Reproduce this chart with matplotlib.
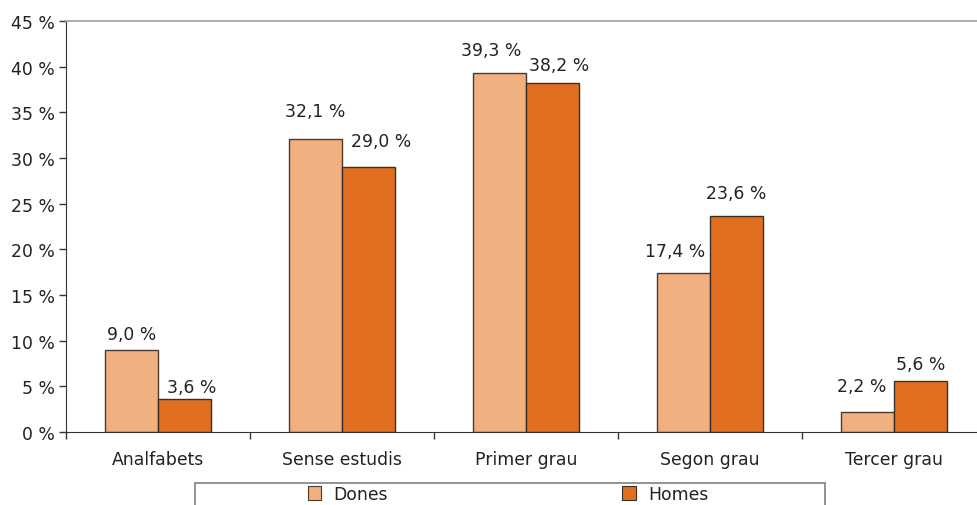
import matplotlib
matplotlib.use("Agg")
import matplotlib.pyplot as plt
import numpy as np
from matplotlib.patches import Rectangle, Patch
from matplotlib.ticker import FixedLocator, FuncFormatter

categories = ["Analfabets", "Sense estudis", "Primer grau", "Segon grau", "Tercer grau"]
dones = [9.0, 32.1, 39.3, 17.4, 2.2]
homes = [3.6, 29.0, 38.2, 23.6, 5.6]
series_names = ["Dones", "Homes"]
yticks = [0, 5, 10, 15, 20, 25, 30, 35, 40, 45]

# label placement relative to each bar: (horizontal shift, gap above bar), in pixels
dones_label_pos = [(0, 11), (0, 23), (-8, 18), (-8, 17), (-5.5, 21)]
homes_label_pos = [(7, 7), (13, 21), (7, 13), (0, 18), (0, 12)]

c_dones = "#F0B080"
c_homes = "#E07020"
edge = "#3a2e28"
text_c = "#222222"
FS = 12.4

W, H = 977, 506
plt.rcParams["font.family"] = ["DejaVu Sans"]
fig = plt.figure(figsize=(W / 100, H / 100), dpi=100)

left, right, top, bottom = 66, 986, 22, 433
ax = fig.add_axes([left / W, (H - bottom) / H, (right - left) / W, (bottom - top) / H])

x = np.arange(len(categories))
bw = 0.288
b1 = ax.bar(x - bw / 2, dones, bw, color=c_dones, edgecolor="#4a3a30", linewidth=1.0, label=series_names[0])
b2 = ax.bar(x + bw / 2, homes, bw, color=c_homes, edgecolor=edge, linewidth=1.0, label=series_names[1])

def fmt(v):
    return f"{v:.1f}".replace(".", ",") + " %"

px = 72 / 100  # pixels -> points
for bars, vals, pos in ((b1, dones, dones_label_pos), (b2, homes, homes_label_pos)):
    for r, v, (dx, gap) in zip(bars, vals, pos):
        ax.annotate(fmt(v), (r.get_x() + r.get_width() / 2, v), xytext=(dx * px, gap * px),
                    textcoords="offset points", ha="center", va="baseline",
                    fontsize=FS, color=text_c)

ax.set_xlim(-0.5, len(categories) - 0.5)
ax.set_ylim(0, 45)

ax.set_xticks(x)
ax.set_xticklabels(categories)
ax.xaxis.set_minor_locator(FixedLocator(np.arange(len(categories) + 1) - 0.5))
ax.tick_params(axis="x", which="major", length=0, pad=13, labelsize=FS, labelcolor=text_c)
ax.tick_params(axis="x", which="minor", length=5, width=1, color="#333333", direction="out")

ax.set_yticks(yticks)
ax.yaxis.set_major_formatter(FuncFormatter(lambda v, p: f"{int(v)} %"))
ax.tick_params(axis="y", length=5, width=1, color="#333333", pad=3, labelsize=FS, labelcolor=text_c)

ax.spines["right"].set_visible(False)
ax.spines["top"].set_color("#a0a0a0")
ax.spines["top"].set_linewidth(1.2)
ax.spines["left"].set_color("#333333")
ax.spines["bottom"].set_color("#333333")

# legend frame (runs off the bottom of the figure)
fig.add_artist(Rectangle((195 / W, -0.05), (825 - 195) / W, (H - 484) / H + 0.05,
                         transform=fig.transFigure, facecolor="none",
                         edgecolor="#808080", linewidth=1.2))
handles = [Patch(facecolor=c_dones, edgecolor="#4a3a30", linewidth=0.8),
           Patch(facecolor=c_homes, edgecolor=edge, linewidth=0.8)]
fig.legend(handles, series_names, loc="center left",
           bbox_to_anchor=(299 / W, (H - 495) / H), ncol=2, frameon=False,
           fontsize=FS, handlelength=0.8, handleheight=0.8, handletextpad=0.7,
           columnspacing=13.6, borderpad=0, labelcolor=text_c)

fig.savefig("out.png", dpi=100)
